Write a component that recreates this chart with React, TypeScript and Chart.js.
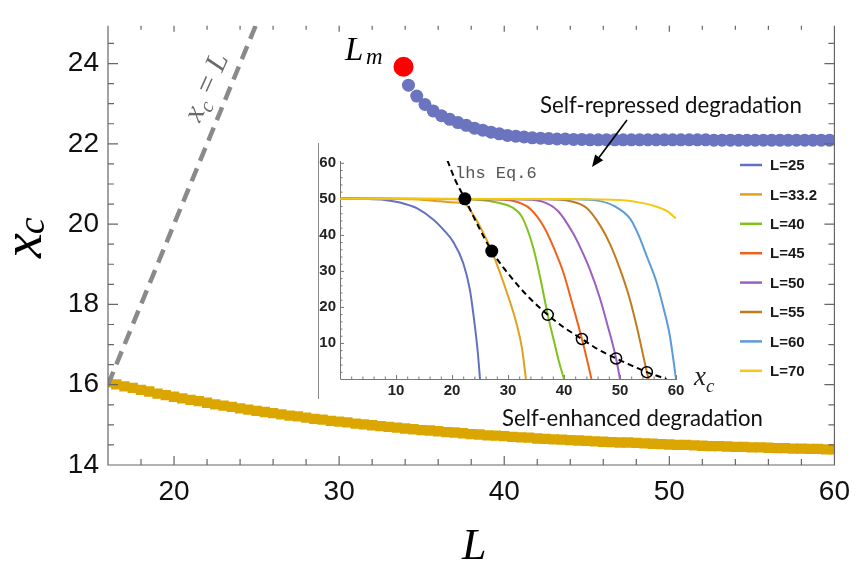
import { useEffect, useRef } from 'react';
import { Chart, registerables } from 'chart.js';
Chart.register(...registerables);

// ---------- main chart data ----------
const DIAG_L = [16, 25];
const DIAG_XC = [16, 25];

const LM_L = [33.9];
const LM_XC = [23.92];

const BLUE_L = [34.2, 34.7, 35.2, 35.7, 36.2, 36.7, 37.2, 37.7, 38.2, 38.7, 39.2, 39.7, 40.2, 40.7, 41.2, 41.7, 42.2, 42.7, 43.2, 43.7, 44.2, 44.7, 45.2, 45.7, 46.2, 46.7, 47.2, 47.7, 48.2, 48.7, 49.2, 49.7, 50.2, 50.7, 51.2, 51.7, 52.2, 52.7, 53.2, 53.7, 54.2, 54.7, 55.2, 55.7, 56.2, 56.7, 57.2, 57.7, 58.2, 58.7, 59.2, 59.7, 60.2];
const BLUE_XC = [23.46, 23.19, 22.98, 22.82, 22.70, 22.61, 22.53, 22.46, 22.39, 22.34, 22.29, 22.25, 22.21, 22.19, 22.17, 22.15, 22.14, 22.13, 22.12, 22.12, 22.11, 22.11, 22.10, 22.10, 22.10, 22.10, 22.10, 22.10, 22.10, 22.10, 22.10, 22.10, 22.10, 22.10, 22.10, 22.10, 22.10, 22.09, 22.09, 22.09, 22.09, 22.09, 22.09, 22.09, 22.09, 22.09, 22.09, 22.09, 22.09, 22.09, 22.09, 22.09, 22.09];

const GOLD_L = [16, 16.5, 17, 17.5, 18, 18.5, 19, 19.5, 20, 20.5, 21, 21.5, 22, 22.5, 23, 23.5, 24, 24.5, 25, 25.5, 26, 26.5, 27, 27.5, 28, 28.5, 29, 29.5, 30, 30.5, 31, 31.5, 32, 32.5, 33, 33.5, 34, 34.5, 35, 35.5, 36, 36.5, 37, 37.5, 38, 38.5, 39, 39.5, 40, 40.5, 41, 41.5, 42, 42.5, 43, 43.5, 44, 44.5, 45, 45.5, 46, 46.5, 47, 47.5, 48, 48.5, 49, 49.5, 50, 50.5, 51, 51.5, 52, 52.5, 53, 53.5, 54, 54.5, 55, 55.5, 56, 56.5, 57, 57.5, 58, 58.5, 59, 59.5, 60];
const GOLD_XC = [16.06, 16.01, 15.96, 15.92, 15.87, 15.83, 15.78, 15.74, 15.70, 15.66, 15.62, 15.59, 15.55, 15.51, 15.48, 15.45, 15.41, 15.38, 15.35, 15.32, 15.29, 15.26, 15.23, 15.21, 15.18, 15.15, 15.13, 15.10, 15.08, 15.06, 15.03, 15.01, 14.99, 14.97, 14.95, 14.93, 14.91, 14.89, 14.87, 14.86, 14.84, 14.82, 14.81, 14.79, 14.77, 14.76, 14.74, 14.73, 14.72, 14.70, 14.69, 14.68, 14.66, 14.65, 14.64, 14.63, 14.62, 14.61, 14.60, 14.59, 14.58, 14.57, 14.56, 14.56, 14.55, 14.54, 14.53, 14.52, 14.51, 14.50, 14.50, 14.49, 14.48, 14.47, 14.47, 14.46, 14.45, 14.45, 14.44, 14.44, 14.43, 14.42, 14.42, 14.41, 14.41, 14.40, 14.40, 14.39, 14.39];

const X_TICKS = [20, 30, 40, 50, 60];
const X_MINOR = [18, 20, 22, 24, 26, 28, 30, 32, 34, 36, 38, 40, 42, 44, 46, 48, 50, 52, 54, 56, 58];
const Y_TICKS = [14, 16, 18, 20, 22, 24];
const Y_MINOR = [14.5, 15, 15.5, 16, 16.5, 17, 17.5, 18, 18.5, 19, 19.5, 20, 20.5, 21, 21.5, 22, 22.5, 23, 23.5, 24, 24.5];

// ---------- inset data ----------
const C25_X = [0, 5, 8, 10.7, 13.7, 16.7, 18.5, 20.2, 22, 23.2, 24.1, 24.6, 25];
const C25_Y = [50, 49.95, 49.7, 49, 47.4, 44.2, 41.4, 38.1, 32.2, 24.7, 14.5, 7.5, 0];
const C33_X = [0, 10, 14, 18, 20.5, 22.3, 24, 25.5, 27.1, 28.5, 29.8, 31.5, 32.5, 33.2];
const C33_Y = [50, 49.95, 49.8, 49.3, 49.0, 48.6, 45.0, 40.8, 35.5, 29.8, 24, 15.5, 8.5, 0];
const C40_X = [0, 20, 25, 28, 30.9, 32.5, 34.5, 35.7, 37.1, 38.2, 39.2, 40];
const C40_Y = [50, 49.95, 49.7, 49.0, 47.5, 45, 36.5, 28.5, 17.8, 10.6, 4.2, 0];
const C45_X = [0, 27, 31, 34, 36.5, 38.2, 39.9, 41.5, 43.2, 44.2, 44.9];
const C45_Y = [50, 49.9, 49.4, 47.2, 42, 36.3, 29.5, 20.8, 11.1, 4.8, 0];
const C50_X = [0, 32, 36, 39, 41.6, 43, 44.6, 46.4, 47.8, 49.3, 50];
const C50_Y = [50, 49.9, 49.3, 46.5, 40.5, 36.2, 30.5, 22.5, 14.8, 5.7, 0];
const C55_X = [0, 37, 41, 44, 46.5, 48.2, 50, 51.5, 53, 54.8, 55.1];
const C55_Y = [50, 49.9, 49.4, 47.5, 42.5, 37.5, 30.5, 23.5, 14.5, 1.9, 0];
const C60_X = [0, 42, 46, 49, 51.8, 53.3, 54.8, 56.5, 57.8, 58.9, 60];
const C60_Y = [50, 49.9, 49.5, 48, 44.5, 40, 34, 27, 19.5, 12, 0];
const C70_X = [0, 40, 46, 50, 53, 56, 58.5, 60];
const C70_Y = [50, 49.95, 49.85, 49.65, 49.1, 48.1, 46.5, 44.6];

const LHS_X = [19.2, 20.5, 22.3, 24.5, 27.1, 30, 33.5, 37.1, 40, 43.2, 46, 49.3, 52, 54.8, 58.3];
const LHS_Y = [60.6, 55.5, 50, 43, 35.5, 29.3, 23, 17.8, 14.3, 11.1, 8.3, 5.7, 3.8, 1.9, 0];
const FILLED_X = [22.3, 27.1];
const FILLED_Y = [50, 35.5];
const OPEN_X = [37.1, 43.2, 49.3, 54.8];
const OPEN_Y = [17.8, 11.1, 5.7, 1.9];

const LEGEND_LABELS = ['L=25', 'L=33.2', 'L=40', 'L=45', 'L=50', 'L=55', 'L=60', 'L=70'];
const LEGEND_COLORS = ['#6470c0', '#e0a21c', '#7dc31c', '#f0621a', '#9b5fc0', '#c27a1e', '#5c9bd6', '#f5c811'];

const INSET_TICKS = [10, 20, 30, 40, 50, 60];
const INSET_MINOR = [2, 4, 6, 8, 10, 12, 14, 16, 18, 20, 22, 24, 26, 28, 30, 32, 34, 36, 38, 40, 42, 44, 46, 48, 50, 52, 54, 56, 58, 60];

const pts = (xs: number[], ys: number[]) => xs.map((x, i) => ({ x, y: ys[i] }));

const SERIF = '"Liberation Serif", "Times New Roman", serif';
const SANS = '"Liberation Sans", Arial, sans-serif';

function fitText(ctx: CanvasRenderingContext2D, text: string, family: string, targetW: number, x: number, y: number) {
  ctx.font = `20px ${family}`;
  const w = ctx.measureText(text).width;
  const size = (20 * targetW) / w;
  ctx.font = `${size}px ${family}`;
  ctx.fillText(text, x, y);
}

const mainDecor = {
  id: 'mainDecor',
  afterDatasetsDraw(chart: any) {
    const { ctx, chartArea, scales } = chart;
    const { left, right, top, bottom } = chartArea;
    const xs = scales.x;
    const ys = scales.y;
    ctx.save();
    ctx.strokeStyle = '#666';
    ctx.lineWidth = 1.2;
    ctx.beginPath();
    ctx.moveTo(left, top);
    ctx.lineTo(left, bottom);
    ctx.lineTo(right, bottom);
    ctx.lineTo(right, top);
    ctx.stroke();
    ctx.beginPath();
    for (const v of X_MINOR) {
      const p = xs.getPixelForValue(v);
      const major = X_TICKS.includes(v);
      ctx.moveTo(p, bottom);
      ctx.lineTo(p, bottom - (major ? 9 : 6));
      ctx.moveTo(p, top);
      ctx.lineTo(p, top + (major ? 6 : 4));
    }
    for (const v of Y_MINOR) {
      const p = ys.getPixelForValue(v);
      const major = Y_TICKS.includes(v);
      ctx.moveTo(left, p);
      ctx.lineTo(left + (major ? 10 : 6), p);
      ctx.moveTo(right, p);
      ctx.lineTo(right - (major ? 10 : 6), p);
    }
    ctx.stroke();
    ctx.restore();
  },
  afterDraw(chart: any) {
    const ctx: CanvasRenderingContext2D = chart.ctx;
    ctx.save();
    ctx.fillStyle = '#000';
    ctx.textBaseline = 'alphabetic';
    ctx.textAlign = 'left';

    // y title x_c (rotated)
    ctx.save();
    ctx.translate(41, 258);
    ctx.rotate(-Math.PI / 2);
    ctx.font = `italic 56px ${SERIF}`;
    ctx.fillText('x', 0, 0);
    const wx = ctx.measureText('x').width;
    ctx.font = `italic 38px ${SERIF}`;
    ctx.fillText('c', wx - 1, 3);
    ctx.restore();

    // x title L
    ctx.font = `italic 44px ${SERIF}`;
    ctx.fillText('L', 462, 559);

    // L_m
    ctx.font = `italic 33px ${SERIF}`;
    ctx.fillText('L', 345, 60);
    ctx.font = `italic 23px ${SERIF}`;
    ctx.fillText('m', 366, 64);

    // x_c = L rotated label
    ctx.save();
    ctx.fillStyle = '#6a6a6a';
    ctx.translate(206, 87);
    ctx.rotate((-66 * Math.PI) / 180);
    const fs = 30;
    const parts: [string, string, number][] = [
      ['x', `italic ${fs}px ${SERIF}`, 0],
      ['c', `italic ${fs * 0.7}px ${SERIF}`, fs * 0.2],
      [' = ', `${fs}px ${SERIF}`, 0],
      ['L', `italic ${fs}px ${SERIF}`, 0],
    ];
    let total = 0;
    for (const [t, f] of parts) { ctx.font = f; total += ctx.measureText(t).width; }
    let cx = -total / 2;
    for (const [t, f, dy] of parts) {
      ctx.font = f;
      ctx.fillText(t, cx, fs * 0.3 + dy);
      cx += ctx.measureText(t).width;
    }
    ctx.restore();

    // annotations
    ctx.fillStyle = '#111';
    fitText(ctx, 'Self-repressed degradation', 'Lato, "Open Sans", sans-serif', 262, 540, 113);
    fitText(ctx, 'Self-enhanced degradation', 'Lato, "Open Sans", sans-serif', 261, 502, 426);

    // arrow
    const x1 = 627, y1 = 120, x2 = 592, y2 = 167;
    const ang = Math.atan2(y2 - y1, x2 - x1);
    ctx.strokeStyle = '#000';
    ctx.lineWidth = 1.6;
    ctx.beginPath();
    ctx.moveTo(x1, y1);
    ctx.lineTo(x2 - 8 * Math.cos(ang), y2 - 8 * Math.sin(ang));
    ctx.stroke();
    ctx.beginPath();
    ctx.moveTo(x2, y2);
    ctx.lineTo(x2 - 12 * Math.cos(ang) + 5 * Math.sin(ang), y2 - 12 * Math.sin(ang) - 5 * Math.cos(ang));
    ctx.lineTo(x2 - 12 * Math.cos(ang) - 5 * Math.sin(ang), y2 - 12 * Math.sin(ang) + 5 * Math.cos(ang));
    ctx.closePath();
    ctx.fillStyle = '#000';
    ctx.fill();
    ctx.restore();
  },
};

const insetDecor = {
  id: 'insetDecor',
  beforeDatasetsDraw(chart: any) {
    const { ctx, chartArea, scales } = chart;
    const { left, right, top, bottom } = chartArea;
    ctx.save();
    ctx.strokeStyle = '#888';
    ctx.lineWidth = 1;
    ctx.beginPath();
    ctx.moveTo(8.5, 5);
    ctx.lineTo(8.5, 261);
    ctx.stroke();
    ctx.strokeStyle = '#777';
    ctx.beginPath();
    ctx.moveTo(left + 0.5, top);
    ctx.lineTo(left + 0.5, bottom + 0.5);
    ctx.lineTo(right + 1, bottom + 0.5);
    ctx.stroke();
    ctx.beginPath();
    for (const v of INSET_MINOR) {
      const major = INSET_TICKS.includes(v);
      const px = scales.x.getPixelForValue(v);
      ctx.moveTo(px + 0.5, bottom);
      ctx.lineTo(px + 0.5, bottom - (major ? 4 : 2.5));
      const py = scales.y.getPixelForValue(v);
      ctx.moveTo(left, py + 0.5);
      ctx.lineTo(left + (major ? 4 : 2.5), py + 0.5);
    }
    ctx.stroke();
    ctx.restore();
  },
  afterDraw(chart: any) {
    const ctx: CanvasRenderingContext2D = chart.ctx;
    ctx.save();
    // legend
    ctx.textBaseline = 'middle';
    ctx.textAlign = 'left';
    ctx.font = `bold 15px ${SANS}`;
    LEGEND_LABELS.forEach((lab, i) => {
      const y = 27 + i * 29.4;
      ctx.strokeStyle = LEGEND_COLORS[i];
      ctx.lineWidth = 2.5;
      ctx.beginPath();
      ctx.moveTo(430, y);
      ctx.lineTo(452, y);
      ctx.stroke();
      ctx.fillStyle = '#1a1a1a';
      ctx.fillText(lab, 460, y + 1);
    });
    // lhs Eq.6
    ctx.textBaseline = 'alphabetic';
    ctx.fillStyle = '#555';
    ctx.font = `17px "Liberation Mono", "Courier New", monospace`;
    ctx.fillText('lhs Eq.6', 145, 40);
    // x_c label
    ctx.fillStyle = '#222';
    ctx.font = `italic 27px ${SERIF}`;
    ctx.fillText('x', 384, 247);
    const w = ctx.measureText('x').width;
    ctx.font = `italic 19px ${SERIF}`;
    ctx.fillText('c', 384 + w, 254);
    ctx.restore();
  },
};

export default function App() {
  const mainRef = useRef<HTMLCanvasElement>(null);
  const insetRef = useRef<HTMLCanvasElement>(null);

  useEffect(() => {
    const main = new Chart(mainRef.current as HTMLCanvasElement, {
      type: 'scatter',
      data: {
        datasets: [
          {
            label: 'x_c = L',
            data: pts(DIAG_L, DIAG_XC),
            showLine: true,
            borderColor: '#8a8a8a',
            borderWidth: 4.5,
            borderDash: [14, 8],
            pointRadius: 0,
          },
          {
            label: 'Lm',
            data: pts(LM_L, LM_XC),
            pointRadius: 10,
            pointBackgroundColor: '#ff0000',
            pointBorderWidth: 0,
          },
          {
            label: 'self-repressed',
            data: pts(BLUE_L, BLUE_XC),
            pointRadius: 6.5,
            pointBackgroundColor: '#6b74bf',
            pointBorderWidth: 0,
          },
          {
            label: 'self-enhanced',
            data: pts(GOLD_L, GOLD_XC),
            pointStyle: 'rect',
            pointRadius: 7.3,
            pointBackgroundColor: '#dca600',
            pointBorderWidth: 0,
          },
        ] as any,
      },
      options: {
        responsive: false,
        animation: false,
        events: [],
        layout: { padding: { left: 0, top: 12.7, right: 17, bottom: 0 }, autoPadding: false } as any,
        plugins: { legend: { display: false }, tooltip: { enabled: false } },
        scales: {
          x: {
            type: 'linear',
            min: 16,
            max: 60,
            grid: { display: false, drawTicks: false },
            border: { display: false },
            afterBuildTicks: (s: any) => { s.ticks = X_TICKS.map((v) => ({ value: v })); },
            afterFit: (s: any) => { s.height = 98; },
            ticks: { font: { family: SANS, size: 28 }, color: '#111', padding: 10, maxRotation: 0, autoSkip: false },
          },
          y: {
            type: 'linear',
            min: 14,
            max: 24.94,
            grid: { display: false, drawTicks: false },
            border: { display: false },
            afterBuildTicks: (s: any) => { s.ticks = Y_TICKS.map((v) => ({ value: v })); },
            afterFit: (s: any) => { s.width = 108; },
            ticks: { font: { family: SANS, size: 28 }, color: '#111', padding: 9, autoSkip: false },
          },
        },
      } as any,
      plugins: [mainDecor],
    });

    const curve = (xs: number[], ys: number[], color: string, label: string) => ({
      label,
      data: pts(xs, ys),
      showLine: true,
      borderColor: color,
      borderWidth: 2,
      pointRadius: 0,
      cubicInterpolationMode: 'monotone',
    });

    const inset = new Chart(insetRef.current as HTMLCanvasElement, {
      type: 'scatter',
      data: {
        datasets: [
          {
            label: 'filled',
            data: pts(FILLED_X, FILLED_Y),
            pointRadius: 6.5,
            pointBackgroundColor: '#000',
            pointBorderWidth: 0,
          },
          {
            label: 'open',
            data: pts(OPEN_X, OPEN_Y),
            pointRadius: 5.5,
            pointBackgroundColor: 'rgba(0,0,0,0)',
            pointBorderColor: '#000',
            pointBorderWidth: 1.5,
          },
          {
            label: 'lhs Eq.6',
            data: pts(LHS_X, LHS_Y),
            showLine: true,
            borderColor: '#000',
            borderWidth: 2,
            borderDash: [6, 4],
            pointRadius: 0,
            cubicInterpolationMode: 'monotone',
          },
          curve(C70_X, C70_Y, LEGEND_COLORS[7], LEGEND_LABELS[7]),
          curve(C60_X, C60_Y, LEGEND_COLORS[6], LEGEND_LABELS[6]),
          curve(C55_X, C55_Y, LEGEND_COLORS[5], LEGEND_LABELS[5]),
          curve(C50_X, C50_Y, LEGEND_COLORS[4], LEGEND_LABELS[4]),
          curve(C45_X, C45_Y, LEGEND_COLORS[3], LEGEND_LABELS[3]),
          curve(C40_X, C40_Y, LEGEND_COLORS[2], LEGEND_LABELS[2]),
          curve(C33_X, C33_Y, LEGEND_COLORS[1], LEGEND_LABELS[1]),
          curve(C25_X, C25_Y, LEGEND_COLORS[0], LEGEND_LABELS[0]),
        ] as any,
      },
      options: {
        responsive: false,
        animation: false,
        events: [],
        layout: { padding: { left: 0, top: 23, right: 184, bottom: 0 }, autoPadding: false } as any,
        plugins: { legend: { display: false }, tooltip: { enabled: false } },
        scales: {
          x: {
            type: 'linear',
            min: 0,
            max: 60,
            grid: { display: false, drawTicks: false },
            border: { display: false },
            afterBuildTicks: (s: any) => { s.ticks = INSET_TICKS.map((v) => ({ value: v })); },
            afterFit: (s: any) => { s.height = 24; },
            ticks: { font: { family: SANS, size: 15, weight: 'bold' }, color: '#222', padding: 3, maxRotation: 0, autoSkip: false },
          },
          y: {
            type: 'linear',
            min: 0,
            max: 60.5,
            grid: { display: false, drawTicks: false },
            border: { display: false },
            afterBuildTicks: (s: any) => { s.ticks = INSET_TICKS.map((v) => ({ value: v })); },
            afterFit: (s: any) => { s.width = 30; },
            ticks: { font: { family: SANS, size: 15, weight: 'bold' }, color: '#222', padding: 4, autoSkip: false },
          },
        },
      } as any,
      plugins: [insetDecor],
    });

    return () => {
      main.destroy();
      inset.destroy();
    };
  }, []);

  return (
    <div style={{ position: 'absolute', left: 0, top: 0, width: 860, height: 563, background: '#fff' }}>
      <canvas ref={mainRef} width={860} height={563} style={{ position: 'absolute', left: 0, top: 0 }} />
      <canvas ref={insetRef} width={550} height={265} style={{ position: 'absolute', left: 310, top: 138 }} />
    </div>
  );
}
